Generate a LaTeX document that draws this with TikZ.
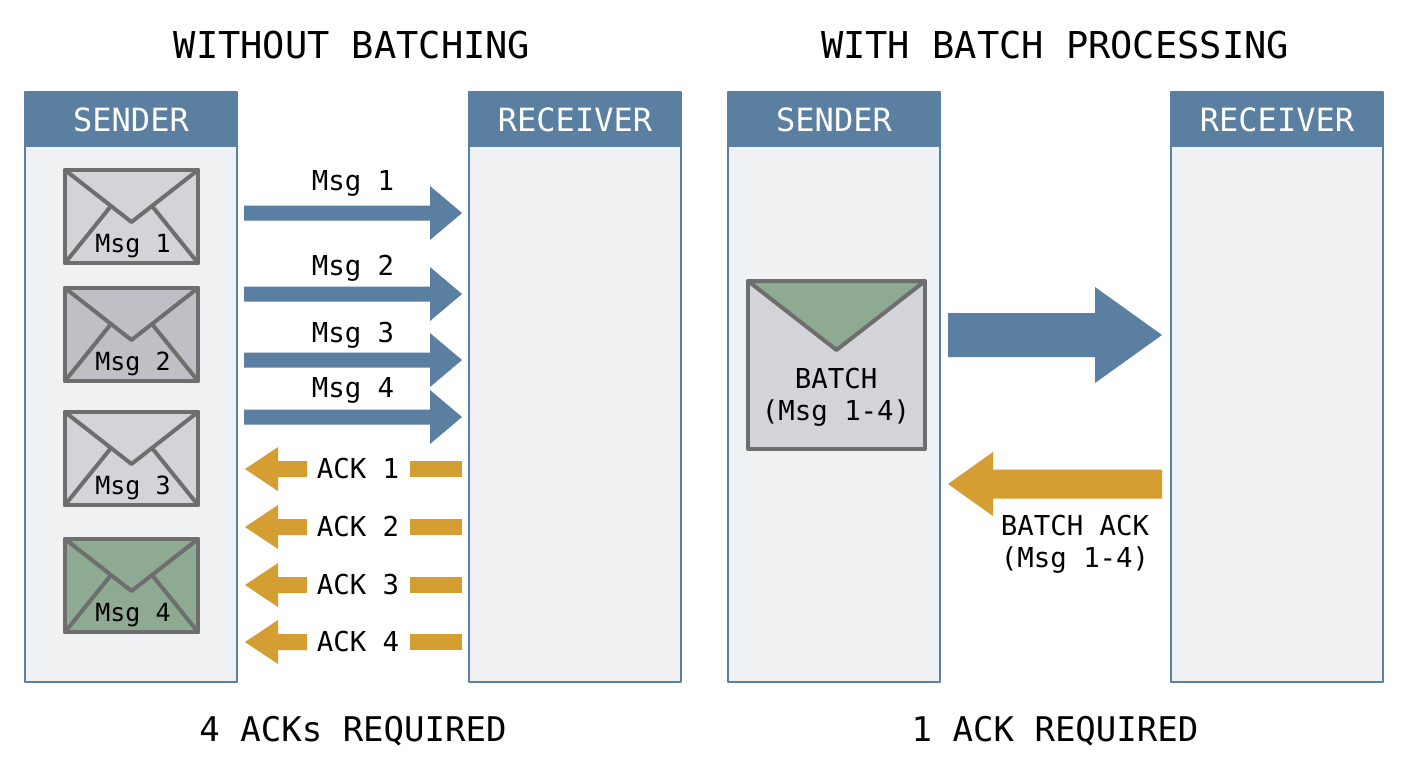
\documentclass[tikz,border=0pt]{standalone}
\usepackage{fontspec}
\setmainfont{DejaVu Sans Mono}
\definecolor{hdrblue}{HTML}{5B7FA0}
\definecolor{panelbg}{HTML}{F0F1F3}
\definecolor{arrblue}{HTML}{5A7FA0}
\definecolor{arrgold}{HTML}{D49E32}
\definecolor{envgrey}{HTML}{D3D4D8}
\definecolor{envdark}{HTML}{BEC0C5}
\definecolor{envgreen}{HTML}{8FAA93}
\definecolor{envedge}{HTML}{6E6E6E}
% right arrow: tip x, y, shaft start x, head length, half shaft, half head
\newcommand{\rarrow}[6]{\fill[arrblue] (#3,#2-#5) -- (#1-#4,#2-#5) -- (#1-#4,#2-#6) -- (#1,#2) -- (#1-#4,#2+#6) -- (#1-#4,#2+#5) -- (#3,#2+#5) -- cycle;}
\newcommand{\larrow}[6]{\fill[arrgold] (#3,#2-#5) -- (#1+#4,#2-#5) -- (#1+#4,#2-#6) -- (#1,#2) -- (#1+#4,#2+#6) -- (#1+#4,#2+#5) -- (#3,#2+#5) -- cycle;}
\begin{document}
\begin{tikzpicture}[x=0.5pt,y=-0.5pt,line cap=round,line join=round,
  title/.style={font=\fontsize{18.5}{20}\selectfont},
  foot/.style={font=\fontsize{17}{20}\selectfont},
  hdr/.style={font=\fontsize{16}{18}\selectfont,text=white},
  lbl/.style={font=\fontsize{13.7}{16}\selectfont},
  envtxt/.style={font=\fontsize{12.5}{14}\selectfont},
  edge/.style={envedge,line width=2pt}]
\useasboundingbox (0,0) rectangle (1408,768);
\fill[white] (0,0) rectangle (1408,768);
% titles
\node[title] (t1) at (352,45) {WITHOUT BATCHING};
\node[title] (t2) at (1055,45) {WITH BATCH PROCESSING};
\node[foot] (b1) at (353,731) {4 ACKs REQUIRED};
\node[foot] (b2) at (1055,731) {1 ACK REQUIRED};
% panels
\foreach \px/\name in {25/SENDER,469/RECEIVER,728/SENDER,1171/RECEIVER}{
  \fill[panelbg] (\px,92) rectangle (\px+212,682);
  \fill[hdrblue] (\px,92) rectangle (\px+212,147);
  \draw[hdrblue,line width=1.2pt] (\px,92) rectangle (\px+212,682);
  \node[hdr] at (\px+106,120) {\name};
}
% envelopes
\foreach \ey/\col/\n in {170/envgrey/1,288/envdark/2,412/envgrey/3,539/envgreen/4}{
  \draw[edge,fill=\col] (65,\ey) rectangle (198,\ey+93);
  \draw[edge] (65,\ey) -- (131.5,\ey+52) -- (198,\ey);
  \draw[edge] (65,\ey+93) -- (111,\ey+36);
  \draw[edge] (198,\ey+93) -- (152,\ey+36);
  \node[envtxt] (env\n) at (133,\ey+76) {Msg \n};
}
% messages
\foreach \ay/\ly/\n in {213/183/1,294/268/2,360/335/3,417/390/4}{
  \rarrow{462}{\ay}{244}{32}{7.5}{27}
  \node[lbl] (msg\n) at (353,\ly) {Msg \n};
}
% acks
\foreach \ay/\n in {469/1,527/2,585/3,642/4}{
  \larrow{245}{\ay}{307}{33}{8}{22}
  \fill[arrgold] (410,\ay-8) rectangle (462,\ay+8);
  \node[lbl] (ack\n) at (358,\ay) {ACK \n};
}
% batch envelope
\draw[edge,fill=envgrey] (748,281) rectangle (925,449);
\draw[edge,fill=envgreen] (748,281) -- (836.5,350) -- (925,281) -- cycle;
\node[lbl,align=center] (batch) at (836,397) {BATCH\\(Msg 1-4)};
\rarrow{1162}{335}{948}{67}{22}{48}
\larrow{948}{484}{1162}{45}{14.5}{32}
\node[lbl,align=center] (back) at (1075,544) {BATCH ACK\\(Msg 1-4)};
\end{tikzpicture}
\end{document}
